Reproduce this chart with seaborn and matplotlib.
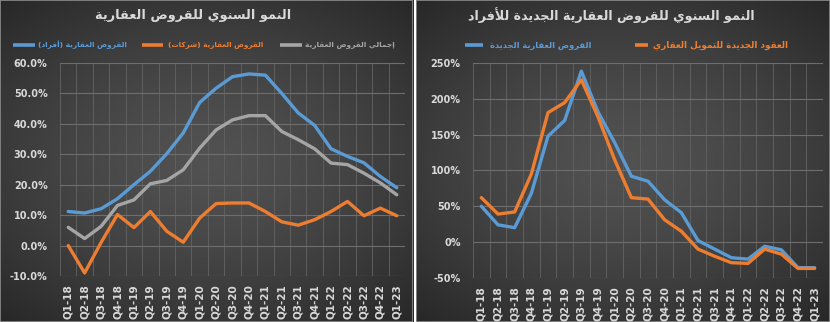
import numpy as np
import pandas as pd
import matplotlib
matplotlib.use("Agg")
import matplotlib.pyplot as plt
from matplotlib.patches import Rectangle
from matplotlib.lines import Line2D
import seaborn as sns

# ---------------------------------------------------------------- data
quarters = ["Q1-18", "Q2-18", "Q3-18", "Q4-18", "Q1-19", "Q2-19", "Q3-19", "Q4-19",
            "Q1-20", "Q2-20", "Q3-20", "Q4-20", "Q1-21", "Q2-21", "Q3-21", "Q4-21",
            "Q1-22", "Q2-22", "Q3-22", "Q4-22", "Q1-23"]

# annual growth of real-estate loans (%)
individuals = [11.2, 10.7, 12.1, 15.4, 20.0, 24.4, 30.2, 37.0, 47.0, 51.7, 55.5,
               56.4, 56.0, 50.0, 43.6, 39.5, 31.8, 29.3, 27.2, 22.7, 19.0]
companies = [0.0, -9.0, 1.0, 10.2, 5.9, 11.2, 4.7, 1.1, 9.0, 13.8, 14.0,
             14.0, 11.2, 7.8, 6.7, 8.5, 11.2, 14.5, 9.8, 12.3, 9.8]
total = [6.0, 2.3, 6.3, 13.2, 15.0, 20.3, 21.4, 24.9, 32.0, 38.0, 41.3,
         42.7, 42.7, 37.5, 34.8, 31.8, 27.1, 26.6, 23.8, 20.6, 16.7]

# annual growth of new real-estate loans to individuals (%)
new_loans = [50, 24, 20, 68, 148, 170, 239, 182, 139, 92, 85,
             59, 41, 2, -10, -22, -24, -6, -11, -36, -36]
new_contracts = [62, 39, 42, 95, 181, 195, 227, 175, 115, 62, 60,
                 31, 15, -10, -20, -29, -30, -10, -17, -37, -37]

left_title = "النمو السنوي للقروض العقارية"
right_title = "النمو السنوي للقروض العقارية الجديدة للأفراد"
lbl_individuals = "القروض العقارية (أفراد)"
lbl_companies = "القروض العقارية (شركات)"
lbl_total = "إجمالي القروض العقارية"
lbl_new_loans = "القروض العقارية الجديدة"
lbl_new_contracts = "العقود الجديدة للتمويل العقاري"

BLUE = "#5b9bd5"
ORANGE = "#ed7d31"
GRAY = "#a5a5a5"
TXT = "#d9d9d9"

# ---------------------------------------------------------------- Arabic shaping
# (isolated, final, initial, medial); two-form letters join only to the right
_FORMS = {
    "\u0627": ("\uFE8D", "\uFE8E"), "\u0623": ("\uFE83", "\uFE84"),
    "\u0625": ("\uFE87", "\uFE88"), "\u0622": ("\uFE81", "\uFE82"),
    "\u0629": ("\uFE93", "\uFE94"), "\u062F": ("\uFEA9", "\uFEAA"),
    "\u0630": ("\uFEAB", "\uFEAC"), "\u0631": ("\uFEAD", "\uFEAE"),
    "\u0632": ("\uFEAF", "\uFEB0"), "\u0648": ("\uFEED", "\uFEEE"),
    "\u0649": ("\uFEEF", "\uFEF0"),
    "\u0628": ("\uFE8F", "\uFE90", "\uFE91", "\uFE92"),
    "\u062A": ("\uFE95", "\uFE96", "\uFE97", "\uFE98"),
    "\u062C": ("\uFE9D", "\uFE9E", "\uFE9F", "\uFEA0"),
    "\u062D": ("\uFEA1", "\uFEA2", "\uFEA3", "\uFEA4"),
    "\u0633": ("\uFEB1", "\uFEB2", "\uFEB3", "\uFEB4"),
    "\u0634": ("\uFEB5", "\uFEB6", "\uFEB7", "\uFEB8"),
    "\u0636": ("\uFEBD", "\uFEBE", "\uFEBF", "\uFEC0"),
    "\u0639": ("\uFEC9", "\uFECA", "\uFECB", "\uFECC"),
    "\u0641": ("\uFED1", "\uFED2", "\uFED3", "\uFED4"),
    "\u0642": ("\uFED5", "\uFED6", "\uFED7", "\uFED8"),
    "\u0643": ("\uFED9", "\uFEDA", "\uFEDB", "\uFEDC"),
    "\u0644": ("\uFEDD", "\uFEDE", "\uFEDF", "\uFEE0"),
    "\u0645": ("\uFEE1", "\uFEE2", "\uFEE3", "\uFEE4"),
    "\u0646": ("\uFEE5", "\uFEE6", "\uFEE7", "\uFEE8"),
    "\u064A": ("\uFEF1", "\uFEF2", "\uFEF3", "\uFEF4"),
}
_LAM_ALEF = {"\u0627": ("\uFEFB", "\uFEFC"), "\u0623": ("\uFEF7", "\uFEF8"),
             "\u0625": ("\uFEF9", "\uFEFA"), "\u0622": ("\uFEF5", "\uFEF6")}
_MIRROR = {"(": ")", ")": "("}


def arabic(text):
    # merge lam + alef into ligature tokens first
    tokens = []
    i = 0
    while i < len(text):
        ch = text[i]
        if ch == "\u0644" and i + 1 < len(text) and text[i + 1] in _LAM_ALEF:
            tokens.append(("LA", text[i + 1]))
            i += 2
        else:
            tokens.append(("C", ch))
            i += 1

    def dual(tok):
        return tok[0] == "C" and tok[1] in _FORMS and len(_FORMS[tok[1]]) == 4

    def letter(tok):
        return tok[0] == "LA" or tok[1] in _FORMS

    out = []
    for k, tok in enumerate(tokens):
        prev_joins = k > 0 and dual(tokens[k - 1]) and letter(tok)
        next_joins = dual(tok) and k + 1 < len(tokens) and letter(tokens[k + 1])
        if tok[0] == "LA":
            out.append(_LAM_ALEF[tok[1]][1 if prev_joins else 0])
        elif tok[1] in _FORMS:
            f = _FORMS[tok[1]]
            if len(f) == 2:
                out.append(f[1] if prev_joins else f[0])
            else:
                if prev_joins and next_joins:
                    out.append(f[3])
                elif prev_joins:
                    out.append(f[1])
                elif next_joins:
                    out.append(f[2])
                else:
                    out.append(f[0])
        else:
            out.append(tok[1])
    return "".join(_MIRROR.get(c, c) for c in reversed(out))


# ---------------------------------------------------------------- figure
sns.set_theme(style="dark")
plt.rcParams["font.family"] = ["DejaVu Sans"]

W, H = 830, 322
fig = plt.figure(figsize=(W / 100, H / 100), dpi=100, facecolor="white")
renderer = fig.canvas.get_renderer()


def fitted_text(x0, x1, y, s, color, weight="bold", base=10):
    """Place text whose rendered width spans pixel columns x0..x1."""
    t = fig.text(x0 / W, 1 - y / H, s, ha="left", va="center", fontsize=base,
                 fontweight=weight, color=color)
    w = t.get_window_extent(renderer).width
    t.set_fontsize(base * (x1 - x0) / w)
    return t


def legend_entry(lx0, lx1, tx0, tx1, y, s, color):
    fig.add_artist(Line2D([lx0 / W, lx1 / W], [1 - y / H, 1 - y / H],
                          transform=fig.transFigure, color=color, linewidth=2.6,
                          solid_capstyle="butt"))
    fitted_text(tx0, tx1, y, s, color)


def panel_background(x0, x1):
    bg = fig.add_axes([x0 / W, 0, (x1 - x0) / W, 1])
    ny, nx = 200, 300
    yy, xx = np.mgrid[-1:1:ny * 1j, -1:1:nx * 1j]
    r = np.clip(np.sqrt((xx * 0.85) ** 2 + (yy * 0.95) ** 2), 0, 1.3)
    lo, hi = 0.15, 0.32
    img = hi - (hi - lo) * (r / 1.3) ** 1.4
    bg.imshow(np.dstack([img, img, img]), aspect="auto", extent=[0, 1, 0, 1],
              interpolation="bilinear")
    bg.add_patch(Rectangle((0, 0), 1, 1, transform=bg.transAxes, fill=False,
                           edgecolor="#8c8c8c", linewidth=1.2))
    bg.set_axis_off()
    bg.set_zorder(0)


panel_background(0, 413)
panel_background(416, 830)


def style_axis(ax, ylim, yticks, fmt):
    ax.set_facecolor("none")
    ax.set_zorder(2)
    ax.set_xlim(-0.5, len(quarters) - 0.5)
    ax.set_ylim(*ylim)
    ax.set_xticks(range(len(quarters)))
    ax.set_xticklabels(quarters, rotation=90, fontsize=7.5, fontweight="bold", color=TXT)
    ax.set_xticks(np.arange(-0.5, len(quarters)), minor=True)
    ax.set_yticks(yticks)
    ax.set_yticklabels([fmt(v) for v in yticks], fontsize=7, fontweight="bold", color=TXT)
    ax.tick_params(axis="both", which="both", length=0)
    ax.tick_params(axis="y", pad=9)
    ax.tick_params(axis="x", pad=6)
    ax.grid(False)
    ax.grid(True, axis="y", which="major", color="#6e6e6e", linewidth=0.8)
    ax.grid(True, axis="x", which="minor", color="#5f5f5f", linewidth=0.7)
    for s in ax.spines.values():
        s.set_visible(False)
    ax.set_xlabel("")
    ax.set_ylabel("")
    leg = ax.get_legend()
    if leg is not None:
        leg.remove()


# ---------------------------------------------------------------- left chart
df_left = pd.DataFrame({"idx": range(len(quarters)), "individuals": individuals,
                        "companies": companies, "total": total})
axL = fig.add_axes([60 / W, (H - 276) / H, 345 / W, 213 / H])
for col, color in [("individuals", BLUE), ("companies", ORANGE), ("total", GRAY)]:
    sns.lineplot(data=df_left, x="idx", y=col, ax=axL, color=color, linewidth=2.4,
                 sort=False)
style_axis(axL, (-10, 60), np.arange(-10, 61, 10), lambda v: f"{v:.1f}%")
fitted_text(95, 292, 16, arabic(left_title), TXT)
legend_entry(13, 35, 38, 127, 45, arabic(lbl_individuals), BLUE)
legend_entry(142, 163, 168, 263, 45, arabic(lbl_companies), ORANGE)
legend_entry(280, 302, 305, 395, 45, arabic(lbl_total), GRAY)

# ---------------------------------------------------------------- right chart
df_right = pd.DataFrame({"idx": range(len(quarters)), "new_loans": new_loans,
                         "new_contracts": new_contracts})
axR = fig.add_axes([473 / W, (H - 277.7) / H, 350 / W, 214.4 / H])
for col, color in [("new_loans", BLUE), ("new_contracts", ORANGE)]:
    sns.lineplot(data=df_right, x="idx", y=col, ax=axR, color=color, linewidth=2.4,
                 sort=False)
style_axis(axR, (-50, 250), np.arange(-50, 251, 50), lambda v: f"{v:.0f}%")
fitted_text(468, 754, 15, arabic(right_title), TXT)
legend_entry(465, 483, 490, 592, 45, arabic(lbl_new_loans), BLUE)
legend_entry(635, 648, 653, 790, 45, arabic(lbl_new_contracts), ORANGE)

fig.savefig("out.png", dpi=100, facecolor="white")
